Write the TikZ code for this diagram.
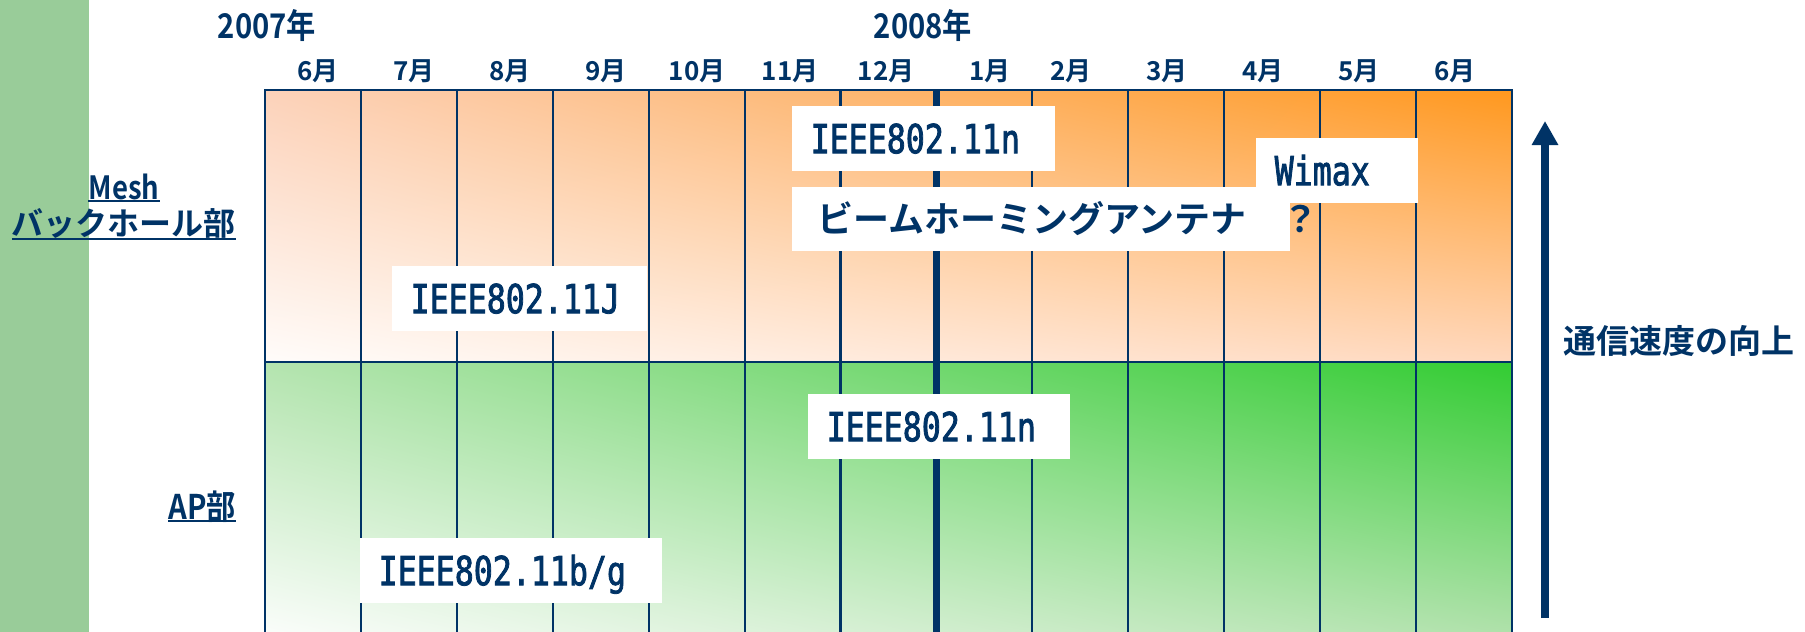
\documentclass[tikz,border=0pt]{standalone}
\usepackage{fontspec}
\setmainfont{Noto Sans CJK JP}
\newfontfamily\jpb{Noto Sans CJK JP Bold}
\newfontfamily\jpc{Noto Sans CJK JP Bold}[FakeStretch=0.86]
\newfontfamily\monof{DejaVu Sans Mono}[FakeStretch=0.79,FakeBold=2]
\usetikzlibrary{arrows.meta,shadings}
\definecolor{navy}{RGB}{0,51,102}
\definecolor{stripgreen}{RGB}{153,204,153}
\definecolor{oUL}{RGB}{252,210,186}
\definecolor{oUR}{RGB}{255,152,30}
\definecolor{oLL}{RGB}{255,252,250}
\definecolor{oLR}{RGB}{255,216,190}
\definecolor{gUL}{RGB}{180,228,175}
\definecolor{gUR}{RGB}{50,204,50}
\definecolor{gLL}{RGB}{250,253,250}
\definecolor{gLR}{RGB}{175,225,170}
\begin{document}
\begin{tikzpicture}[x=1pt,y=-1pt,
  lbl/.style={inner sep=0pt, text=navy},
  gridline/.style={draw=navy, line width=2.2pt},
  ieee/.style={fill=white, anchor=north west, minimum height=65pt, inner ysep=0pt,
    inner xsep=18.5pt, align=left, text=navy, font=\monof\fontsize{40}{40}\selectfont,
    text height=29pt, text depth=0pt},
  jpbox/.style={fill=white, anchor=north west, minimum height=64pt, inner ysep=0pt,
    inner xsep=25pt, align=left, text=navy, font=\jpb\fontsize{36}{36}\selectfont,
    text height=27pt, text depth=0pt},
  month/.style={lbl, font=\jpb\fontsize{26}{26}\selectfont},
  year/.style={lbl, font=\jpc\fontsize{34}{34}\selectfont},
  uline/.style={draw=navy, line width=2pt}
]
\useasboundingbox (0,0) rectangle (1805,632);
\fill[white] (0,0) rectangle (1805,632);
% left green strip
\fill[stripgreen] (0,0) rectangle (89,632);

% shaded bands
\shade[upper left=oUL, upper right=oUR, lower left=oLL, lower right=oLR] (265,90) rectangle (1512,362);
\shade[upper left=gUL, upper right=gUR, lower left=gLL, lower right=gLR] (265,362) rectangle (1512,632);

% grid
\foreach \i in {1,2,3,4,5,6,8,9,10,11,12} {
  \draw[gridline] ({265+\i*95.92},90) -- ({265+\i*95.92},632);
}
\draw[draw=navy, line width=7pt] ({265+7*95.92},90) -- ({265+7*95.92},632);
\draw[gridline] (265,632) -- (265,90) -- (1512,90) -- (1512,632);
\draw[gridline] (265,362) -- (1512,362);

% years
\node[year] (y2007) at (267,26) {2007年};
\node[year] (y2008) at (923,26) {2008年};

% months
\node[month] (m06) at (318,71) {6月};
\node[month] (m07) at (414,71) {7月};
\node[month] (m08) at (510,71) {8月};
\node[month] (m09) at (606,71) {9月};
\node[month] (m10) at (697,71) {10月};
\node[month] (m11) at (790,71) {11月};
\node[month] (m12) at (886,71) {12月};
\node[month] (n01) at (990,71) {1月};
\node[month] (n02) at (1071,71) {2月};
\node[month] (n03) at (1167,71) {3月};
\node[month] (n04) at (1263,71) {4月};
\node[month] (n05) at (1359,71) {5月};
\node[month] (n06) at (1455,71) {6月};

% left labels
\node[lbl, font=\jpc\fontsize{32}{32}\selectfont, anchor=base] (mesh) at (124,199) {Mesh};
\node[lbl, font=\jpb\fontsize{32}{32}\selectfont, anchor=base] (bh) at (124,235) {バックホール部};
\node[lbl, font=\jpc\fontsize{34}{34}\selectfont, anchor=base east] (ap) at (236,519) {AP部};
\draw[uline] ([yshift=-2pt]mesh.base west) -- ([yshift=-2pt]mesh.base east);
\draw[uline] ([yshift=-4pt]bh.base west) -- ([yshift=-4pt]bh.base east);
\draw[uline] ([yshift=-2pt]ap.base west) -- ([yshift=-2pt]ap.base east);

% boxes
\node[ieee, text width=226pt] (n11top) at (792,106) {IEEE802.11n};
\node[ieee, text width=125pt] (wimax) at (1256,138) {Wimax};
\node[jpbox, text width=448pt] (beam) at (792,187) {ビームホーミングアンテナ　？};
\node[ieee, text width=218pt] (n11j) at (392,266) {IEEE802.11J};
\node[ieee, text width=225pt] (n11bot) at (808,394) {IEEE802.11n};
\node[ieee, text width=265pt] (n11bg) at (360,538) {IEEE802.11b/g};

% speed arrow
\coordinate (arrS) at (1545,618);
\coordinate (arrE) at (1545,121);
\draw[navy, line width=8pt, -{Triangle[length=24pt,width=25pt]}] (arrS) -- (arrE);
\node[lbl, font=\jpb\fontsize{33}{33}\selectfont, anchor=base west] (speed) at (1563,353) {通信速度の向上};
\end{tikzpicture}
\end{document}
